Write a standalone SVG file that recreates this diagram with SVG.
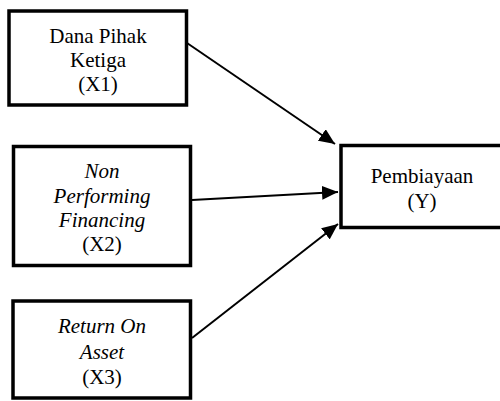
<svg xmlns="http://www.w3.org/2000/svg" width="500" height="401" viewBox="0 0 500 401">
<style>
.box{fill:#fff;stroke:#000;stroke-width:3.5}
.t{font-family:"Liberation Serif","Times New Roman",serif;font-size:21px;fill:#000;text-anchor:middle}
.i{font-style:italic}
.c{stroke:#000;stroke-width:2;fill:none}
</style>
<defs>
<marker id="ah" markerWidth="8" markerHeight="7" refX="8" refY="3.5" orient="auto" markerUnits="strokeWidth">
<path d="M0,0 L8,3.5 L0,7 Z" fill="#000"/>
</marker>
</defs>
<rect width="500" height="401" fill="#fff"/>
<g id="connectors">
<line class="c" x1="187" y1="43" x2="335" y2="144" marker-end="url(#ah)"/>
<line class="c" x1="192" y1="200" x2="338" y2="192" marker-end="url(#ah)"/>
<line class="c" x1="192" y1="338" x2="338" y2="224" marker-end="url(#ah)"/>
</g>
<g id="x1">
<rect class="box" x="9" y="11" width="177.5" height="94"/>
<text class="t" x="98" y="43">Dana Pihak</text>
<text class="t" x="98" y="67">Ketiga</text>
<text class="t" x="98" y="91">(X1)</text>
</g>
<g id="x2">
<rect class="box" x="13.5" y="146.5" width="177" height="119"/>
<text class="t i" x="102" y="178">Non</text>
<text class="t i" x="102" y="203">Performing</text>
<text class="t i" x="102" y="227">Financing</text>
<text class="t" x="102" y="251">(X2)</text>
</g>
<g id="x3">
<rect class="box" x="13" y="301" width="177.5" height="97"/>
<text class="t i" x="102" y="333">Return On</text>
<text class="t i" x="102" y="359">Asset</text>
<text class="t" x="102" y="384">(X3)</text>
</g>
<g id="y">
<rect class="box" x="341" y="145.5" width="162" height="82"/>
<text class="t" x="422" y="183">Pembiayaan</text>
<text class="t" x="422" y="208">(Y)</text>
</g>
</svg>
